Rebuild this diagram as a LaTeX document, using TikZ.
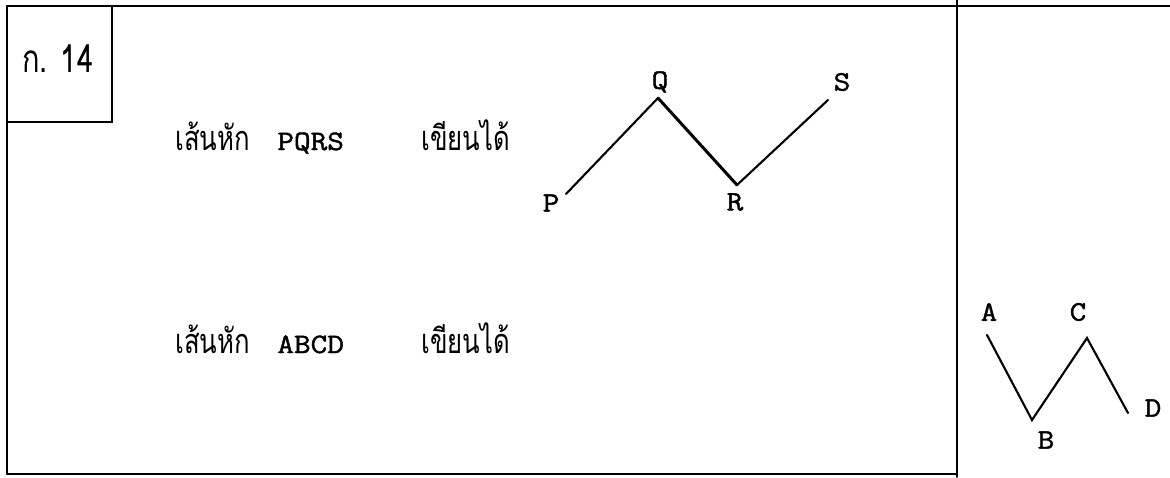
\documentclass[tikz,border=0pt]{standalone}
\usepackage{fontspec}
\newfontfamily\thaifont[Script=Thai, FakeStretch=0.75]{Loma}
\newfontfamily\typefont[FakeBold=1.5, FakeStretch=1.15]{Latin Modern Mono}
\usetikzlibrary{positioning}

\begin{document}
\begin{tikzpicture}[x=0.02cm, y=-0.02cm, line cap=round,
    frame/.style={line width=1.1pt},
    zig/.style={line width=1.2pt},
    thai/.style={font=\thaifont\fontsize{19.5}{22}\selectfont, anchor=base west, inner sep=0pt},
    lbl/.style={font=\typefont\fontsize{16}{18}\selectfont, inner sep=0pt}]
  \useasboundingbox (0,0) rectangle (1170,477);
  % outer frame and right column
  \draw[frame] (7,474) -- (7,6) -- (1170,6);
  \draw[frame] (7,474) -- (957,474);
  \draw[frame] (957,0) -- (957,477);
  % number box
  \draw[line width=0.8pt] (7,122) -- (112,122) -- (112,6);
  \node[thai, font=\thaifont\fontsize{22}{24}\selectfont] (num) at (22,72) {ก. 14};
  % the two text rows
  \foreach \y/\n/\s in {150/1/PQRS, 353/2/ABCD}{
    \node[thai] (line\n) at (175,\y) {เส้นหัก};
    \node[lbl, anchor=base west] (name\n) at (277,\y) {\s};
    \node[thai] (write\n) at (421,\y) {เขียนได้};
  }
  % broken line PQRS
  \coordinate (p) at (566,194);
  \coordinate (q) at (658,98);
  \coordinate (r) at (737,185);
  \coordinate (s) at (828,100);
  \draw[zig] (p) -- (q);
  \draw[zig, line width=1.7pt] (q) -- (r);
  \draw[zig] (r) -- (s);
  % broken line ABCD
  \coordinate (a) at (987,335);
  \coordinate (b) at (1032,420);
  \coordinate (c) at (1087,338);
  \coordinate (d) at (1128,413);
  \draw[zig] (a) -- (b) -- (c) -- (d);
  % vertex letters
  \foreach \c/\x/\y in {P/551/203, Q/660/82, R/735/202, S/842/82,
                        A/989/312, B/1046/440, C/1078/312, D/1153/408}{
    \node[lbl] (lbl\c) at (\x,\y) {\c};
  }
\end{tikzpicture}
\end{document}
